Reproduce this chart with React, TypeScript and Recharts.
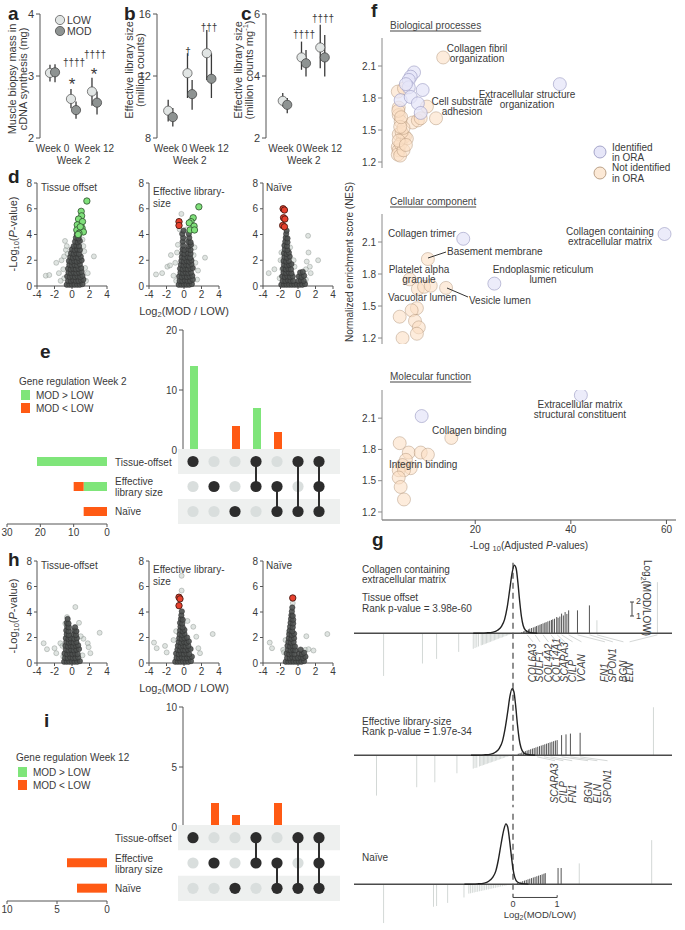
import React from "react";
import {
  ScatterChart,
  Scatter,
  ComposedChart,
  BarChart,
  Bar,
  Line,
  XAxis,
  YAxis,
  ErrorBar,
  ReferenceLine,
  ReferenceArea,
} from "recharts";

document.body.style.margin = "0";

const FONT = "'Liberation Sans', Arial, Helvetica, sans-serif";
const INK = "#3a3a3a";
const AX = "#555";
const GREEN = "#7fe57a";
const RED = "#ff5a14";

// ---------- a-c : mean and 95% interval per week
const weeks = ["Week 0", "Week 2", "Week 12"];
const massLowMean = [3.05, 2.63, 2.75];
const massLowCI = [[2.91, 3.18], [2.48, 2.79], [2.52, 2.97]];
const massModMean = [3.06, 2.45, 2.57];
const massModCI = [[2.9, 3.19], [2.31, 2.59], [2.38, 2.75]];
const libLowMean = [9.76, 12.18, 13.47];
const libLowCI = [[9.07, 10.47], [10.58, 13.47], [11.75, 14.97]];
const libModMean = [9.35, 10.83, 11.82];
const libModCI = [[8.75, 9.93], [9.82, 11.75], [10.58, 13.47]];
const perMgLowMean = [3.2, 4.6, 4.92];
const perMgLowCI = [[3.02, 3.45], [4.2, 5.11], [4.25, 5.65]];
const perMgModMean = [3.07, 4.41, 4.6];
const perMgModCI = [[2.8, 3.29], [3.98, 4.84], [3.98, 5.32]];

// ---------- d : volcano, week 2  [log2FC, -log10 p]
const d1Core = [
  [-0.6, 0.1], [-0.3, 0.1], [0, 0.1], [0.3, 0.1], [0.6, 0.1], [0.9, 0.1], [1.2, 0.15],
  [-0.45, 0.4], [-0.15, 0.4], [0.15, 0.45], [0.45, 0.4], [0.75, 0.4], [1.05, 0.45], [1.3, 0.5],
  [-0.55, 0.75], [-0.25, 0.7], [0.05, 0.75], [0.35, 0.7], [0.65, 0.75], [0.95, 0.7], [1.2, 0.8],
  [-0.4, 1.05], [-0.1, 1.0], [0.2, 1.05], [0.5, 1.0], [0.8, 1.05], [1.1, 1.1],
  [-0.45, 1.35], [-0.15, 1.3], [0.15, 1.35], [0.45, 1.3], [0.75, 1.35], [1.05, 1.4],
  [-0.3, 1.65], [0, 1.6], [0.3, 1.65], [0.6, 1.6], [0.9, 1.7],
  [-0.35, 1.95], [-0.05, 1.9], [0.25, 1.95], [0.55, 1.9], [0.85, 1.95], [1.1, 2.0],
  [-0.2, 2.25], [0.1, 2.2], [0.4, 2.25], [0.7, 2.2], [1.0, 2.3],
  [-0.1, 2.55], [0.2, 2.5], [0.5, 2.55], [0.8, 2.5],
  [0.0, 2.85], [0.3, 2.8], [0.6, 2.85], [0.9, 2.8],
  [0.2, 3.1], [0.5, 3.15], [0.8, 3.1],
  [0.35, 3.45], [0.65, 3.4], [0.9, 3.5],
  [0.45, 3.75], [0.75, 3.7], [0.55, 4.0], [0.8, 3.95],
];
const d1Spread = [
  [-3, 0.8], [-2.6, 0.85], [-1.8, 1.8], [-1.5, 1.0], [-1.2, 2.0], [-1.0, 1.3], [-0.9, 0.6],
  [-0.8, 3.5], [-0.7, 2.8], [-0.6, 3.1], [-0.9, 2.3], [-1.3, 0.4], [1.4, 2.7], [1.5, 1.4],
  [1.8, 1.0], [1.6, 0.4], [1.3, 3.1], [2.5, 2.3], [1.2, 3.6], [-0.5, 2.5],
];
const d1Up = [
  [1.7, 6.6], [1.05, 5.8], [1.1, 5.45], [0.75, 5.2], [1.2, 5.0], [0.6, 4.75], [1.15, 4.5],
  [0.55, 4.35], [1.3, 4.2], [0.8, 4.1], [0.95, 4.6], [0.7, 4.0],
];
const d2Core = [
  [-0.6, 0.1], [-0.3, 0.1], [0, 0.1], [0.3, 0.1], [0.6, 0.1], [0.9, 0.15],
  [-0.5, 0.4], [-0.2, 0.4], [0.1, 0.45], [0.4, 0.4], [0.7, 0.4], [1.0, 0.5],
  [-0.55, 0.75], [-0.25, 0.7], [0.05, 0.75], [0.35, 0.7], [0.65, 0.75], [0.95, 0.8],
  [-0.4, 1.05], [-0.1, 1.0], [0.2, 1.05], [0.5, 1.0], [0.8, 1.05],
  [-0.45, 1.35], [-0.15, 1.3], [0.15, 1.35], [0.45, 1.3], [0.75, 1.35], [1.0, 1.4],
  [-0.35, 1.65], [-0.05, 1.6], [0.25, 1.65], [0.55, 1.6], [0.85, 1.7],
  [-0.3, 1.95], [0, 1.9], [0.3, 1.95], [0.6, 1.9], [0.85, 2.0],
  [-0.25, 2.25], [0.05, 2.2], [0.4, 2.25], [0.7, 2.2],
  [-0.2, 2.55], [0.05, 2.5], [0.45, 2.55], [0.75, 2.5],
  [-0.15, 2.85], [0.05, 2.8], [0.5, 2.85], [0.75, 2.8],
  [-0.1, 3.15], [0.55, 3.1], [0.8, 3.2], [-0.15, 3.45], [0.5, 3.45], [0.75, 3.4],
  [-0.1, 3.75], [0.6, 3.75], [-0.2, 4.05], [0.55, 4.05], [-0.05, 4.3],
];
const d2Spread = [
  [-3.2, 0.9], [-2.5, 1.0], [-1.9, 1.5], [-1.6, 1.6], [-1.5, 2.4], [-1.2, 0.8], [-1.0, 1.8],
  [-0.9, 0.4], [-0.8, 2.6], [-0.7, 3.2], [-0.3, 5.6], [0.3, 4.4], [1.1, 2.4], [1.3, 1.8],
  [1.5, 0.5], [1.6, 1.2], [1.2, 3.0], [2.4, 2.2], [0.2, 3.6], [-0.5, 4.4],
];
const d2Up = [[1.7, 6.15], [1.05, 5.3], [0.8, 5.0], [0.6, 4.9], [1.15, 4.65], [0.7, 4.35], [1.2, 4.35]];
const d2Down = [[-0.57, 5.0], [-0.57, 4.7]];
const d3Core = [
  [-1.9, 0.1], [-1.6, 0.1], [-1.3, 0.1], [-1.0, 0.1], [-0.7, 0.1], [-0.4, 0.1], [-0.1, 0.1], [0.2, 0.1], [0.5, 0.1], [0.8, 0.15],
  [-1.75, 0.4], [-1.45, 0.4], [-1.15, 0.45], [-0.85, 0.4], [-0.55, 0.4], [0.05, 0.4], [0.35, 0.45], [0.65, 0.4],
  [-1.8, 0.75], [-1.5, 0.7], [-1.2, 0.75], [-0.9, 0.7], [-0.6, 0.75], [0.1, 0.75], [0.4, 0.7], [0.7, 0.8],
  [-1.65, 1.05], [-1.35, 1.0], [-1.05, 1.05], [-0.75, 1.0], [0.25, 1.05], [0.55, 1.1],
  [-1.7, 1.35], [-1.4, 1.3], [-1.1, 1.35], [-0.8, 1.3],
  [-1.6, 1.65], [-1.3, 1.6], [-1.0, 1.65], [-0.75, 1.7],
  [-1.65, 1.95], [-1.35, 1.9], [-1.05, 1.95], [-1.55, 2.25], [-1.25, 2.2], [-0.95, 2.3],
  [-1.6, 2.55], [-1.3, 2.5], [-1.05, 2.6], [-1.5, 2.85], [-1.2, 2.8],
  [-1.55, 3.15], [-1.25, 3.1], [-1.45, 3.45], [-1.2, 3.4], [-1.4, 3.75], [-1.2, 3.7], [-1.35, 4.05], [-1.3, 4.3],
];
const d3Spread = [
  [-3.35, 1.0], [-2.7, 1.3], [-1.8, 1.3], [-2.0, 2.0], [-1.9, 2.6], [-2.1, 0.6], [1.15, 3.9],
  [1.2, 2.6], [2.3, 2.0], [1.35, 1.5], [1.45, 1.0], [0.9, 0.5], [-0.5, 2.0], [-0.9, 3.0],
  [0.9, 1.3], [-0.4, 1.5], [1.0, 1.9],
];
const d3Down = [[-1.7, 6.0], [-1.55, 5.9], [-1.65, 5.3], [-1.5, 5.2], [-1.75, 4.7], [-1.55, 4.6]];

// ---------- h : volcano, week 12
const h1Core = [
  [-0.9, 0.1], [-0.6, 0.1], [-0.3, 0.1], [0, 0.1], [0.3, 0.1], [0.6, 0.1], [0.9, 0.15],
  [-0.8, 0.4], [-0.5, 0.4], [-0.2, 0.45], [0.1, 0.4], [0.4, 0.4], [0.7, 0.45],
  [-0.85, 0.75], [-0.55, 0.7], [-0.25, 0.75], [0.05, 0.7], [0.35, 0.75], [0.65, 0.7],
  [-0.7, 1.05], [-0.4, 1.0], [-0.1, 1.05], [0.2, 1.0], [0.5, 1.05], [0.8, 1.1],
  [-0.75, 1.35], [-0.45, 1.3], [-0.15, 1.35], [0.15, 1.3], [0.45, 1.35], [0.7, 1.4],
  [-0.65, 1.65], [-0.35, 1.6], [-0.1, 1.65], [0.2, 1.6], [0.5, 1.65],
  [-0.7, 1.95], [-0.4, 1.9], [-0.15, 1.95], [0.25, 1.9], [0.55, 1.95],
  [-0.6, 2.25], [-0.35, 2.2], [0.2, 2.25], [0.45, 2.2], [-0.65, 2.55], [-0.4, 2.5], [0.25, 2.55], [0.5, 2.5],
  [-0.55, 2.85], [-0.35, 2.8], [0.35, 2.8], [-0.6, 3.15], [-0.4, 3.1], [-0.5, 3.45],
];
const h1Spread = [
  [-3.24, 1.55], [-2.86, 1.08], [-2.0, 1.16], [-1.8, 0.77], [-1.33, 1.55], [-1.1, 1.34], [0.38, 4.39],
  [0.8, 3.15], [1.8, 1.55], [1.9, 1.24], [2.1, 0.77], [3.16, 2.37], [1.3, 1.9], [-0.57, 3.6],
  [-0.76, 3.1], [1.0, 2.1], [-1.0, 0.5], [1.2, 0.6],
];
const h2Core = [
  [-1.0, 0.1], [-0.7, 0.1], [-0.4, 0.1], [-0.1, 0.1], [0.2, 0.1], [0.5, 0.1], [0.8, 0.15],
  [-0.85, 0.4], [-0.55, 0.4], [-0.25, 0.45], [0.05, 0.4], [0.35, 0.4], [0.65, 0.45], [0.9, 0.5],
  [-0.9, 0.75], [-0.6, 0.7], [-0.3, 0.75], [0, 0.7], [0.3, 0.75], [0.6, 0.7],
  [-0.75, 1.05], [-0.45, 1.0], [-0.15, 1.05], [0.15, 1.0], [0.45, 1.05], [0.75, 1.1],
  [-0.7, 1.35], [-0.4, 1.3], [-0.1, 1.35], [0.2, 1.3], [0.5, 1.35],
  [-0.6, 1.65], [-0.3, 1.6], [0, 1.65], [0.3, 1.6], [0.55, 1.7],
  [-0.55, 1.95], [-0.25, 1.9], [0.05, 1.95], [0.35, 2.0], [-0.5, 2.25], [-0.2, 2.2], [0.05, 2.3],
  [-0.45, 2.55], [-0.15, 2.5], [0.05, 2.6], [-0.4, 2.85], [-0.15, 2.8], [-0.45, 3.15], [-0.2, 3.1],
  [-0.35, 3.45], [-0.15, 3.4], [-0.3, 3.75], [-0.25, 4.05],
];
const h2Spread = [
  [-3.43, 1.6], [-3.12, 1.16], [-2.17, 1.34], [-1.98, 0.83], [-0.27, 6.84], [-0.27, 5.68],
  [1.64, 1.16], [1.83, 0.77], [3.28, 2.27], [-1.2, 1.8], [1.06, 2.84], [1.4, 2.06], [-0.9, 2.5], [0.4, 3.3],
];
const h2Down = [[-0.57, 5.16], [-0.46, 5.03], [-0.57, 4.5]];
const h3Core = [
  [-1.4, 0.1], [-1.1, 0.1], [-0.8, 0.1], [-0.5, 0.1], [-0.2, 0.1], [0.1, 0.1], [0.4, 0.1], [0.7, 0.15],
  [-1.25, 0.4], [-0.95, 0.4], [-0.65, 0.45], [-0.35, 0.4], [0.0, 0.4], [0.3, 0.45], [0.6, 0.4], [0.85, 0.5],
  [-1.3, 0.75], [-1.0, 0.7], [-0.7, 0.75], [-0.4, 0.7], [0.15, 0.75], [0.45, 0.7], [0.7, 0.8],
  [-1.15, 1.05], [-0.85, 1.0], [-0.55, 1.05], [-0.3, 1.0], [0.3, 1.05],
  [-1.2, 1.35], [-0.9, 1.3], [-0.6, 1.35], [-0.35, 1.3], [-1.1, 1.65], [-0.8, 1.6], [-0.5, 1.65],
  [-1.05, 1.95], [-0.75, 1.9], [-0.45, 1.95], [-1.0, 2.25], [-0.7, 2.2], [-0.45, 2.3],
  [-0.95, 2.55], [-0.65, 2.5], [-0.9, 2.85], [-0.6, 2.8], [-0.85, 3.15], [-0.55, 3.1],
  [-0.8, 3.45], [-0.55, 3.4], [-0.75, 3.75], [-0.6, 3.7], [-0.7, 4.05], [-0.65, 4.35],
];
const h3Spread = [
  [-3.23, 1.6], [-2.97, 1.16], [-1.7, 1.03], [-1.6, 0.83], [-1.43, 1.8], [-1.05, 2.45], [0.84, 1.03],
  [1.2, 1.08], [0.95, 2.1], [3.35, 2.27], [0.45, 0.26], [1.77, 0.98], [-0.6, 4.7],
];
const h3Down = [[-0.6, 5.1]];

// ---------- e / i : upset
const setNames = ["Tissue-offset", "Effective library size", "Naïve"];
const membership = [
  [1, 0, 0, 1, 0, 1, 1],
  [0, 1, 0, 1, 1, 0, 1],
  [0, 0, 1, 0, 1, 1, 1],
];
const w2ColUp = [14, 0, 0, 7, 0, 0, 0];
const w2ColDown = [0, 0, 4, 0, 3, 0, 0];
const w2SetUp = [21, 7, 0];
const w2SetDown = [0, 3, 7];
const w12ColUp = [0, 0, 0, 0, 0, 0, 0];
const w12ColDown = [0, 2, 1, 0, 2, 0, 0];
const w12SetUp = [0, 0, 0];
const w12SetDown = [0, 4, 3];

// ---------- f : enrichment  [-log10 adj p, NES]
const bpOra = [[7.2, 2.04], [6.5, 2.0], [6.1, 1.97], [6.1, 1.9], [9.0, 1.875], [4.4, 1.78], [6.5, 1.81], [8.0, 1.75], [8.6, 1.66], [5.5, 1.93], [37.7, 1.93]];
const bpNot = [
  [13.3, 2.18], [11.8, 1.61], [9.9, 1.72], [3.8, 1.86], [5.1, 1.89], [4.0, 1.71], [4.0, 1.64], [4.4, 1.58],
  [6.9, 1.57], [8.0, 1.59], [8.6, 1.61], [4.0, 1.46], [4.9, 1.43], [5.3, 1.44], [3.8, 1.34], [4.0, 1.31],
  [3.8, 1.27], [4.4, 1.37], [5.7, 1.42], [4.6, 1.48], [5.0, 1.52], [4.3, 1.26], [5.0, 1.31], [4.0, 1.4],
  [5.5, 1.36], [4.3, 1.53], [3.9, 1.68], [4.5, 1.62],
];
const ccOra = [[17.5, 2.13], [59.6, 2.175], [24, 1.71]];
const ccNot = [[10.1, 1.94], [13.9, 1.67], [6.3, 1.75], [8.0, 1.66], [9.3, 1.68], [10.7, 1.69], [7.8, 1.48], [6.7, 1.46], [4.2, 1.4], [7.4, 1.36], [8.2, 1.3], [7.8, 1.24], [4.8, 1.2]];
const mfOra = [[42.1, 2.32], [8.8, 2.12]];
const mfNot = [[15, 1.91], [4.2, 1.86], [6.1, 1.77], [8.6, 1.77], [10.1, 1.75], [5.5, 1.7], [4.8, 1.65], [6.5, 1.62], [4.0, 1.6], [5.1, 1.6], [4.0, 1.53], [4.4, 1.44], [5.1, 1.32]];

// ---------- g : rank barcode  [log2FC, bar height], density [log2FC, density]
const g1Lead = [
  [0.2, 0.08], [0.24, 0.12], [0.27, 0.17], [0.31, 0.21], [0.35, 0.25], [0.38, 0.3], [0.42, 0.34], [0.46, 0.38],
  [0.5, 0.42], [0.53, 0.47], [0.57, 0.51], [0.61, 0.55], [0.64, 0.6], [0.68, 0.64], [0.72, 0.68], [0.75, 0.72],
  [0.79, 0.77], [0.83, 0.81], [0.87, 0.86], [0.9, 0.9], [0.94, 0.94], [0.99, 1.05], [1.02, 1.0], [1.06, 1.08],
  [1.1, 1.27], [1.14, 1.15], [1.18, 1.37], [1.22, 1.25], [1.26, 1.48], [1.46, 1.48], [1.73, 1.8],
];
const g1Rest = [
  [-2.93, -2.75], [-2.05, -1.95], [-1.73, -1.65], [-1.23, -1.2], [-0.9, -1.0], [-0.86, -0.95], [-0.82, -0.9],
  [-0.78, -0.85], [-0.72, -0.78], [-0.69, -0.75], [-0.66, -0.72], [-0.63, -0.68], [-0.6, -0.65], [-0.57, -0.62],
  [-0.54, -0.58], [-0.51, -0.55], [-0.48, -0.52], [-0.45, -0.48], [-0.42, -0.45], [-0.39, -0.42], [-0.36, -0.38],
  [-0.33, -0.35], [-0.3, -0.32], [-0.27, -0.29], [-0.24, -0.26], [-0.21, -0.22], [-0.18, -0.19], [-0.15, -0.16],
  [-0.12, -0.13], [-0.09, -0.1], [-0.06, -0.06], [1.9, 0.84], [3.27, 3.3],
];
const g1Curve = [
  [-0.9, 0], [-0.6, 0.03], [-0.45, 0.08], [-0.35, 0.2], [-0.26, 0.45], [-0.19, 0.9], [-0.13, 1.7], [-0.07, 2.9],
  [-0.02, 3.9], [0.03, 4.4], [0.07, 4.2], [0.11, 3.3], [0.15, 2.1], [0.19, 1.1], [0.23, 0.5], [0.29, 0.18], [0.38, 0.05], [0.55, 0],
];
const g1Genes = ["COL6A3", "SULF1", "COL4A2", "COL14A1", "SCARA3", "CILP", "VCAN", "FN1", "SPON1", "BGN", "ELN"];
const g1GeneFC = [0.32, 0.5, 0.68, 0.86, 1.0, 1.1, 1.26, 1.46, 1.73, 1.9, 3.27];
const g1LabelAt = [0.45, 0.61, 0.8, 0.99, 1.17, 1.35, 1.55, 2.08, 2.26, 2.5, 2.64];

const g2Lead = [
  [0.12, 0.1], [0.16, 0.14], [0.2, 0.18], [0.24, 0.22], [0.28, 0.27], [0.32, 0.31], [0.36, 0.35], [0.4, 0.39],
  [0.44, 0.43], [0.48, 0.47], [0.52, 0.51], [0.56, 0.55], [0.6, 0.59], [0.64, 0.63], [0.68, 0.67], [0.72, 0.71],
  [0.76, 0.75], [0.8, 0.79], [0.84, 0.83], [0.88, 0.87], [0.92, 0.91], [0.96, 0.95], [1.0, 0.98], [1.1, 1.3],
  [1.2, 1.35], [1.3, 1.4], [1.52, 1.45],
];
const g2Rest = [
  [-3.09, -2.6], [-2.18, -2.06], [-1.77, -1.74], [-1.27, -1.16], [-0.9, -0.86], [-0.86, -0.82], [-0.82, -0.8],
  [-0.76, -0.72], [-0.73, -0.69], [-0.7, -0.66], [-0.67, -0.63], [-0.64, -0.6], [-0.61, -0.57], [-0.58, -0.54],
  [-0.55, -0.51], [-0.52, -0.48], [-0.49, -0.45], [-0.46, -0.42], [-0.43, -0.39], [-0.4, -0.36], [-0.37, -0.33],
  [-0.34, -0.3], [-0.31, -0.27], [-0.28, -0.24], [-0.25, -0.21], [-0.22, -0.18], [-0.19, -0.15], [-0.16, -0.12],
  [-0.13, -0.09], [-0.1, -0.06], [3.18, 3.1],
];
const g2Curve = [
  [-0.95, 0], [-0.65, 0.03], [-0.5, 0.08], [-0.4, 0.2], [-0.31, 0.45], [-0.24, 0.9], [-0.18, 1.7], [-0.12, 2.8],
  [-0.07, 3.8], [-0.02, 4.3], [0.02, 4.1], [0.06, 3.2], [0.1, 2.0], [0.14, 1.05], [0.18, 0.5], [0.24, 0.17], [0.33, 0.05], [0.5, 0],
];
const g2Genes = ["SCARA3", "CILP", "FN1", "BGN", "ELN", "SPON1"];
const g2GeneFC = [0.55, 0.7, 0.85, 1.1, 1.3, 1.52];
const g2LabelAt = [0.95, 1.14, 1.34, 1.7, 1.91, 2.14];

const g3Lead = [
  [0.1, 0.08], [0.14, 0.12], [0.18, 0.16], [0.22, 0.2], [0.26, 0.24], [0.3, 0.28], [0.34, 0.32], [0.38, 0.36],
  [0.42, 0.4], [0.46, 0.44], [0.5, 0.48], [0.54, 0.52], [0.58, 0.56], [0.62, 0.6], [0.66, 0.64], [0.7, 0.68],
  [0.73, 0.72], [1.02, 1.05], [1.09, 1.05],
];
const g3Rest = [
  [-2.93, -2.5], [-1.8, -1.45], [-1.73, -1.4], [-1.48, -1.2], [-1.11, -0.85], [-1.0, -0.6], [-0.96, -0.58],
  [-0.92, -0.55], [-0.88, -0.53], [-0.84, -0.5], [-0.8, -0.48], [-0.76, -0.45], [-0.72, -0.43], [-0.68, -0.4],
  [-0.64, -0.38], [-0.6, -0.35], [-0.56, -0.33], [-0.52, -0.3], [-0.48, -0.28], [-0.44, -0.25], [-0.4, -0.23],
  [-0.36, -0.2], [-0.32, -0.18], [-0.28, -0.15], [-0.24, -0.13], [-0.2, -0.1], [-0.16, -0.08], [1.5, 1.35], [3.14, 2.85],
];
const g3Curve = [
  [-1.1, 0], [-0.8, 0.03], [-0.65, 0.08], [-0.55, 0.2], [-0.46, 0.45], [-0.39, 0.85], [-0.33, 1.6], [-0.27, 2.6],
  [-0.21, 3.5], [-0.16, 3.9], [-0.12, 3.7], [-0.08, 2.9], [-0.04, 1.9], [0.0, 1.0], [0.04, 0.45], [0.1, 0.15], [0.2, 0.04], [0.35, 0],
];

// ---------- helpers
const pts = (a: number[][]) => a.map(([x, y]) => ({ x, y }));

const Box = ({ x, y, children }: any) => (
  <div style={{ position: "absolute", left: x, top: y }}>{children}</div>
);

const dot =
  (r: number, fill: string, stroke: string, o: any = {}) =>
  (p: any) =>
    p.cx == null ? <g /> : (
      <circle
        cx={p.cx}
        cy={p.cy}
        r={r}
        fill={fill}
        stroke={stroke}
        strokeWidth={o.sw ?? 0.7}
        fillOpacity={o.fo ?? 1}
        strokeOpacity={o.so ?? 1}
      />
    );

const tick10 = { fontSize: 10, fill: INK };

function DotPlot({ axisX, first, step, domain, ticks, low, lowCI, mod, modCI }: any) {
  const W = 74;
  const x0 = -first / step;
  const rows = (m: number[], ci: number[][], off: number) =>
    m.map((v, i) => ({ x: i + off, y: v, err: [v - ci[i][0], ci[i][1] - v] }));
  const WeekTick = (p: any) => (
    <text
      x={p.x}
      y={p.y + (p.payload.value === 1 ? 22 : 10)}
      textAnchor="middle"
      fontSize={10}
      fill={INK}
      dominantBaseline="central"
    >
      {weeks[p.payload.value]}
    </text>
  );
  return (
    <Box x={axisX - 40} y={0}>
      <ScatterChart width={40 + W + 14} height={170} margin={{ top: 14, right: 14, bottom: 0, left: 0 }}>
        <XAxis
          type="number"
          dataKey="x"
          domain={[x0, x0 + W / step]}
          ticks={[0, 1, 2]}
          interval={0}
          axisLine={false}
          tickLine={false}
          tickSize={0}
          tickMargin={0}
          height={32}
          tick={WeekTick}
          allowDataOverflow
        />
        <YAxis
          type="number"
          dataKey="y"
          domain={domain}
          ticks={ticks}
          interval={0}
          width={40}
          stroke={AX}
          tickSize={4}
          tick={{ fontSize: 11, fill: INK }}
          allowDataOverflow
        />
        <Scatter data={rows(low, lowCI, -0.12)} isAnimationActive={false} shape={dot(4.6, "#e1e5e4", "#4a4a4a")}>
          <ErrorBar dataKey="err" direction="y" width={0} stroke="#3a3a3a" strokeWidth={1.3} />
        </Scatter>
        <Scatter data={rows(mod, modCI, 0.12)} isAnimationActive={false} shape={dot(4.6, "#8e9392", "#3a3a3a")}>
          <ErrorBar dataKey="err" direction="y" width={0} stroke="#3a3a3a" strokeWidth={1.3} />
        </Scatter>
      </ScatterChart>
    </Box>
  );
}

function Volcano({ axisX, top, plotH, core, spread, up, down }: any) {
  return (
    <Box x={axisX - 30} y={top - 6}>
      <ScatterChart width={108} height={6 + plotH + 22} margin={{ top: 6, right: 8, bottom: 0, left: 0 }}>
        <XAxis type="number" dataKey="x" domain={[-4, 4]} ticks={[-4, -2, 0, 2, 4]} interval={0} height={22} tickSize={3} stroke={AX} tick={tick10} />
        <YAxis type="number" dataKey="y" domain={[0, 8]} ticks={[0, 2, 4, 6, 8]} interval={0} width={30} tickSize={3} stroke={AX} tick={tick10} />
        <Scatter data={pts(spread)} isAnimationActive={false} shape={dot(2.5, "#c5cdc9", "#737a76", { fo: 0.55, so: 0.6, sw: 0.6 })} />
        <Scatter data={pts(core)} isAnimationActive={false} shape={dot(2.7, "#4d504f", "#2c2c2c", { sw: 0.5, fo: 0.9 })} />
        {up && <Scatter data={pts(up)} isAnimationActive={false} shape={dot(3.2, "#7fe07a", "#2f4f2f", { sw: 0.8 })} />}
        {down && <Scatter data={pts(down)} isAnimationActive={false} shape={dot(3.2, "#e8412e", "#4a1a12", { sw: 0.9 })} />}
      </ScatterChart>
    </Box>
  );
}

function UpsetBars({ top, up, down, max, ticks }: any) {
  const data = up.map((u: number, i: number) => ({ c: i, up: u, down: down[i] }));
  return (
    <Box x={152.5} y={top - 5}>
      <BarChart width={177} height={133} data={data} margin={{ top: 5, right: 0, bottom: 8, left: 0 }} barCategoryGap={0}>
        <XAxis dataKey="c" hide />
        <YAxis type="number" domain={[0, max]} ticks={ticks} interval={0} width={30} tickSize={4} stroke={AX} tick={tick10} />
        <Bar dataKey="up" stackId="s" fill={GREEN} barSize={8} isAnimationActive={false} />
        <Bar dataKey="down" stackId="s" fill={RED} barSize={8} isAnimationActive={false} />
      </BarChart>
    </Box>
  );
}

function UpsetMatrix({ top, height }: any) {
  const off: any[] = [];
  const cols: any[][] = [];
  for (let c = 0; c < membership[0].length; c++) {
    const on: any[] = [];
    membership.forEach((row, r) => {
      if (row[c]) on.push({ x: c, y: 2 - r });
      else off.push({ x: c, y: 2 - r });
    });
    cols.push(on);
  }
  return (
    <Box x={178} y={top}>
      <ScatterChart width={162} height={height} margin={{ top: 0, right: 0, bottom: 0, left: 0 }}>
        <XAxis type="number" dataKey="x" domain={[-0.714, 7.0]} hide allowDataOverflow />
        <YAxis type="number" dataKey="y" domain={[-0.5, 2.5]} hide allowDataOverflow />
        <ReferenceArea y1={1.5} y2={2.5} fill="#eef0ef" fillOpacity={1} stroke="none" ifOverflow="visible" />
        <ReferenceArea y1={-0.5} y2={0.5} fill="#eef0ef" fillOpacity={1} stroke="none" ifOverflow="visible" />
        <Scatter data={off} isAnimationActive={false} shape={dot(5.6, "#d9dedd", "none", { sw: 0 })} />
        {cols.map((col, i) => (
          <Scatter
            key={i}
            data={col}
            isAnimationActive={false}
            line={col.length > 1 ? { stroke: "#2d2d2d", strokeWidth: 2 } : false}
            shape={dot(5.6, "#2d2d2d", "none", { sw: 0 })}
          />
        ))}
      </ScatterChart>
    </Box>
  );
}

function SetBars({ top, height, up, down, max, ticks }: any) {
  const data = setNames.map((n, i) => ({ n, up: up[i], down: down[i] }));
  return (
    <Box x={-3} y={top}>
      <BarChart layout="vertical" width={120} height={height + 22} data={data} margin={{ top: 0, right: 10, bottom: 0, left: 10 }}>
        <XAxis type="number" domain={[0, max]} ticks={ticks} interval={0} reversed height={22} tickSize={3} stroke={AX} tick={tick10} />
        <YAxis type="category" dataKey="n" hide />
        <Bar dataKey="up" stackId="s" fill={GREEN} barSize={9} isAnimationActive={false} />
        <Bar dataKey="down" stackId="s" fill={RED} barSize={9} isAnimationActive={false} />
      </BarChart>
    </Box>
  );
}

function Enrich({ top, plotH, domain, ora, not, showX }: any) {
  return (
    <Box x={352} y={top}>
      <ScatterChart width={328} height={plotH + (showX ? 22 : 0)} margin={{ top: 0, right: 4, bottom: 0, left: 0 }}>
        <XAxis type="number" dataKey="x" domain={[0.5, 62]} ticks={[20, 40, 60]} interval={0} hide={!showX} height={22} tickSize={4} stroke={AX} tick={tick10} />
        <YAxis
          type="number"
          dataKey="y"
          domain={domain}
          ticks={[1.2, 1.5, 1.8, 2.1]}
          interval={0}
          width={30}
          tickSize={4}
          stroke="#8a8a8a"
          tick={tick10}
          tickFormatter={(v: number) => v.toFixed(1)}
          allowDataOverflow
        />
        <Scatter data={pts(not)} isAnimationActive={false} shape={dot(6.5, "#fbe0c4", "#a98d70", { fo: 0.6, so: 0.55, sw: 0.8 })} />
        <Scatter data={pts(ora)} isAnimationActive={false} shape={dot(6.5, "#e6e6f8", "#9292bd", { fo: 0.75, so: 0.7, sw: 0.8 })} />
      </ScatterChart>
    </Box>
  );
}

const U = 15.5;
function RankRow({ base, lead, rest, curve, genes, geneFC, labelAt, labelY, linkY, scale }: any) {
  const labels = genes ? genes.map((g: string, i: number) => ({ x: labelAt[i], y: labelY, name: g })) : [];
  const RotText = (p: any) => (
    <text
      x={p.cx}
      y={p.cy}
      transform={`rotate(-90 ${p.cx} ${p.cy})`}
      fontSize={10}
      fontStyle="italic"
      fill="#444"
      dominantBaseline="central"
    >
      {p.payload.name}
    </text>
  );
  return (
    <Box x={354} y={base - 4.6 * U}>
      <ComposedChart width={318} height={8 * U} margin={{ top: 0, right: 0, bottom: 0, left: 0 }}>
        <XAxis type="number" dataKey="x" domain={[-3.6, 3.6]} hide allowDataOverflow />
        <YAxis type="number" dataKey="y" domain={[-3.4, 4.6]} hide allowDataOverflow />
        {genes &&
          genes.map((g: string, i: number) => (
            <ReferenceLine
              key={"k" + g}
              segment={[{ x: geneFC[i], y: -0.1 }, { x: labelAt[i], y: linkY }]}
              stroke="#c2c6c4"
              strokeWidth={0.7}
            />
          ))}
        {rest.map(([x, h]: number[], i: number) => (
          <ReferenceLine key={"r" + i} segment={[{ x, y: 0 }, { x, y: h }]} stroke="#d3d8d6" strokeWidth={1} />
        ))}
        {lead.map(([x, h]: number[], i: number) => (
          <ReferenceLine key={"l" + i} segment={[{ x, y: 0 }, { x, y: h }]} stroke="#555" strokeWidth={1} />
        ))}
        <ReferenceLine y={0} stroke="#4a4a4a" strokeWidth={1.6} />
        <ReferenceLine
          segment={[{ x: 0, y: 4.55 }, { x: 0, y: scale ? -0.85 : -3.35 }]}
          stroke="#555"
          strokeWidth={1.3}
          strokeDasharray="6 4"
        />
        {scale && (
          <>
            <ReferenceLine segment={[{ x: 0, y: -0.85 }, { x: 1, y: -0.85 }]} stroke="#444" strokeWidth={1} />
            <ReferenceLine segment={[{ x: 1, y: -0.85 }, { x: 1, y: -0.7 }]} stroke="#444" strokeWidth={1} />
          </>
        )}
        <Line
          data={curve.map(([x, d]: number[]) => ({ x, d }))}
          dataKey="d"
          type="monotone"
          dot={false}
          stroke="#222"
          strokeWidth={1.4}
          isAnimationActive={false}
        />
        {genes && <Scatter data={labels} dataKey="y" isAnimationActive={false} shape={RotText} />}
      </ComposedChart>
    </Box>
  );
}

// ---------- text overlay helpers
const T = ({ x, y, s = 10, a = "start", it, c = INK, children, ...rest }: any) => (
  <text x={x} y={y} fontSize={s} textAnchor={a} fontStyle={it ? "italic" : undefined} fill={c} dominantBaseline="central" {...rest}>
    {children}
  </text>
);
const R = ({ x, y, s = 11, deg = -90, children }: any) => (
  <text transform={`translate(${x},${y}) rotate(${deg})`} fontSize={s} textAnchor="middle" fill={INK} dominantBaseline="central">
    {children}
  </text>
);
const L = ({ x, y, children }: any) => (
  <text x={x} y={y} fontSize={19} fontWeight="bold" fill="#222">
    {children}
  </text>
);

function Overlay() {
  const log2 = (
    <>
      Log<tspan dy={3} fontSize={7.5}>2</tspan>
      <tspan dy={-3}>(MOD / LOW)</tspan>
    </>
  );
  const logp = (
    <>
      -Log<tspan dy={3} fontSize={7.5}>10</tspan>
      <tspan dy={-3}>(</tspan>
      <tspan fontStyle="italic">P</tspan>-value)
    </>
  );
  return (
    <svg width={685} height={930} style={{ position: "absolute", left: 0, top: 0, pointerEvents: "none" }}>
      <L x={8} y={20}>a</L>
      <L x={124} y={20}>b</L>
      <L x={241} y={20}>c</L>
      <L x={8} y={183}>d</L>
      <L x={40} y={358}>e</L>
      <L x={371} y={17}>f</L>
      <L x={372} y={546}>g</L>
      <L x={8} y={566}>h</L>
      <L x={44} y={727}>i</L>

      {/* a-c */}
      <R x={12} y={79}>Muscle biopsy mass in</R>
      <R x={23} y={79}>cDNA synthesis (mg)</R>
      <circle cx={60} cy={20} r={4.6} fill="#e1e5e4" stroke="#4a4a4a" strokeWidth={0.7} />
      <T x={67} y={20} s={10.5}>LOW</T>
      <circle cx={60} cy={31} r={4.6} fill="#8e9392" stroke="#3a3a3a" strokeWidth={0.7} />
      <T x={67} y={31} s={10.5}>MOD</T>
      <T x={74} y={62} a="middle" s={10}>††††</T>
      <T x={72} y={84} a="middle" s={17}>*</T>
      <T x={95} y={54} a="middle" s={10}>††††</T>
      <T x={94} y={74} a="middle" s={17}>*</T>
      <R x={129} y={70}>Effective library size</R>
      <R x={140} y={70}>(million counts)</R>
      <T x={188} y={51} a="middle" s={10}>†</T>
      <T x={209} y={27} a="middle" s={10}>†††</T>
      <R x={238} y={70}>Effective library size</R>
      <R x={249} y={70}>
        (million counts mg<tspan dy={-4} fontSize={7.5}>-1</tspan>
        <tspan dy={4}>)</tspan>
      </R>
      <T x={304} y={34} a="middle" s={10}>††††</T>
      <T x={323} y={18} a="middle" s={10}>††††</T>

      {/* d */}
      <T x={41} y={187}>Tissue offset</T>
      <T x={153} y={191}>Effective library-</T>
      <T x={153} y={203}>size</T>
      <T x={266} y={187}>Naïve</T>
      <R x={13} y={234}>{logp}</R>
      <T x={184} y={311} a="middle" s={11}>{log2}</T>

      {/* h */}
      <T x={41} y={565}>Tissue-offset</T>
      <T x={153} y={569}>Effective library-</T>
      <T x={153} y={581}>size</T>
      <T x={266} y={565}>Naïve</T>
      <R x={13} y={616}>{logp}</R>
      <T x={184} y={688} a="middle" s={11}>{log2}</T>

      {/* e */}
      <T x={19} y={381}>Gene regulation Week 2</T>
      <rect x={21} y={390} width={9} height={10} fill={GREEN} />
      <T x={36} y={395}>MOD &gt; LOW</T>
      <rect x={21} y={403} width={9} height={10} fill={RED} />
      <T x={36} y={408}>MOD &lt; LOW</T>
      <T x={115} y={462}>Tissue-offset</T>
      <T x={115} y={481}>Effective</T>
      <T x={115} y={492}>library size</T>
      <T x={115} y={511}>Naïve</T>

      {/* i */}
      <T x={16} y={757}>Gene regulation Week 12</T>
      <rect x={18} y={767} width={9} height={10} fill={GREEN} />
      <T x={33} y={772}>MOD &gt; LOW</T>
      <rect x={18} y={780} width={9} height={10} fill={RED} />
      <T x={33} y={785}>MOD &lt; LOW</T>
      <T x={115} y={838}>Tissue-offset</T>
      <T x={115} y={858}>Effective</T>
      <T x={115} y={869}>library size</T>
      <T x={115} y={888}>Naïve</T>

      {/* f */}
      <T x={390} y={25} c="#444" style={{ textDecoration: "underline" }}>Biological processes</T>
      <T x={390} y={201} c="#444" style={{ textDecoration: "underline" }}>Cellular component</T>
      <T x={390} y={376} c="#444" style={{ textDecoration: "underline" }}>Molecular function</T>
      <T x={477} y={48} a="middle">Collagen fibril</T>
      <T x={477} y={58} a="middle">organization</T>
      <T x={527} y={94} a="middle">Extracellular structure</T>
      <T x={527} y={104} a="middle">organization</T>
      <T x={462} y={101} a="middle">Cell substrate</T>
      <T x={462} y={111} a="middle">adhesion</T>
      <circle cx={600} cy={152} r={6} fill="#e6e6f8" stroke="#9292bd" strokeWidth={0.8} />
      <T x={612} y={147}>Identified</T>
      <T x={612} y={157}>in ORA</T>
      <circle cx={600} cy={173} r={6} fill="#fbe0c4" stroke="#a98d70" strokeWidth={0.8} fillOpacity={0.7} />
      <T x={612} y={167}>Not identified</T>
      <T x={612} y={178}>in ORA</T>
      <T x={388} y={233}>Collagen trimer</T>
      <line x1={428} y1={258} x2={446} y2={252} stroke="#333" strokeWidth={1} />
      <T x={447} y={251}>Basement membrane</T>
      <T x={419} y={269} a="middle">Platelet alpha</T>
      <T x={419} y={279} a="middle">granule</T>
      <T x={388} y={297}>Vacuolar lumen</T>
      <line x1={447} y1={288} x2={468} y2={297} stroke="#333" strokeWidth={1} />
      <T x={469} y={300}>Vesicle lumen</T>
      <T x={543} y={269} a="middle">Endoplasmic reticulum</T>
      <T x={543} y={279} a="middle">lumen</T>
      <T x={610} y={231} a="middle">Collagen containing</T>
      <T x={610} y={241} a="middle">extracellular matrix</T>
      <T x={580} y={404} a="middle">Extracellular matrix</T>
      <T x={580} y={414} a="middle">structural constituent</T>
      <T x={432} y={430}>Collagen binding</T>
      <T x={389} y={464}>Integrin binding</T>
      <R x={349} y={262} s={10}>Normalized enrichment score (NES)</R>
      <T x={529} y={545} a="middle">
        -Log <tspan dy={3} fontSize={7.5}>10</tspan>
        <tspan dy={-3}>(Adjusted </tspan>
        <tspan fontStyle="italic">P</tspan>-values)
      </T>

      {/* g */}
      <T x={362} y={569}>Collagen containing</T>
      <T x={362} y={579}>extracellular matrix</T>
      <T x={362} y={597}>Tissue offset</T>
      <T x={362} y={608}>Rank p-value = 3.98e-60</T>
      <T x={362} y={721}>Effective library-size</T>
      <T x={362} y={731}>Rank p-value = 1.97e-34</T>
      <T x={362} y={857}>Naïve</T>
      <R x={647} y={598} s={10} deg={90}>
        Log<tspan dy={3} fontSize={7}>2</tspan>
        <tspan dy={-3}>(MOD/LOW)</tspan>
      </R>
      <line x1={632} y1={602} x2={632} y2={616} stroke="#444" strokeWidth={1} />
      <line x1={630} y1={602} x2={634} y2={602} stroke="#444" strokeWidth={1} />
      <line x1={630} y1={616} x2={634} y2={616} stroke="#444" strokeWidth={1} />
      <T x={636} y={601} s={9}>2</T>
      <T x={636} y={616} s={9}>1</T>
      <T x={513} y={904} a="middle" s={9}>0</T>
      <T x={557} y={904} a="middle" s={9}>1</T>
      <T x={540} y={914} a="middle" s={9.5}>
        Log<tspan dy={2.5} fontSize={7}>2</tspan>
        <tspan dy={-2.5}>(MOD/LOW)</tspan>
      </T>
    </svg>
  );
}

export default function App() {
  return (
    <div style={{ position: "relative", width: 685, height: 930, fontFamily: FONT, color: INK, overflow: "hidden", background: "#fff" }}>
      <DotPlot axisX={40} first={12.5} step={21} domain={[2, 4]} ticks={[2, 3, 4]} low={massLowMean} lowCI={massLowCI} mod={massModMean} modCI={massModCI} />
      <DotPlot axisX={157} first={13.5} step={19.3} domain={[8, 16]} ticks={[8, 12, 16]} low={libLowMean} lowCI={libLowCI} mod={libModMean} modCI={libModCI} />
      <DotPlot axisX={266} first={19} step={18.75} domain={[2, 6]} ticks={[2, 4, 6]} low={perMgLowMean} lowCI={perMgLowCI} mod={perMgModMean} modCI={perMgModCI} />

      <Volcano axisX={37} top={183} plotH={103} core={d1Core} spread={d1Spread} up={d1Up} />
      <Volcano axisX={149} top={183} plotH={103} core={d2Core} spread={d2Spread} up={d2Up} down={d2Down} />
      <Volcano axisX={263} top={183} plotH={103} core={d3Core} spread={d3Spread} down={d3Down} />

      <UpsetBars top={330} up={w2ColUp} down={w2ColDown} max={20} ticks={[0, 10, 20]} />
      <UpsetMatrix top={448.5} height={75} />
      <SetBars top={448.5} height={75} up={w2SetUp} down={w2SetDown} max={30} ticks={[0, 10, 20, 30]} />

      <Volcano axisX={37} top={561} plotH={102} core={h1Core} spread={h1Spread} />
      <Volcano axisX={149} top={561} plotH={102} core={h2Core} spread={h2Spread} down={h2Down} />
      <Volcano axisX={263} top={561} plotH={102} core={h3Core} spread={h3Spread} down={h3Down} />

      <UpsetBars top={707} up={w12ColUp} down={w12ColDown} max={10} ticks={[0, 5, 10]} />
      <UpsetMatrix top={824.5} height={76} />
      <SetBars top={824.5} height={76} up={w12SetUp} down={w12SetDown} max={10} ticks={[0, 5, 10]} />

      <Enrich top={38} plotH={130} domain={[1.144, 2.3625]} ora={bpOra} not={bpNot} />
      <Enrich top={214} plotH={130} domain={[1.144, 2.3625]} ora={ccOra} not={ccNot} />
      <Enrich top={390} plotH={130} domain={[1.123, 2.37]} ora={mfOra} not={mfNot} showX />

      <RankRow base={633} lead={g1Lead} rest={g1Rest} curve={g1Curve} genes={g1Genes} geneFC={g1GeneFC} labelAt={g1LabelAt} labelY={-3.15} linkY={-0.55} />
      <RankRow base={755} lead={g2Lead} rest={g2Rest} curve={g2Curve} genes={g2Genes} geneFC={g2GeneFC} labelAt={g2LabelAt} labelY={-3.1} linkY={-0.35} />
      <RankRow base={884} lead={g3Lead} rest={g3Rest} curve={g3Curve} scale />

      <Overlay />
    </div>
  );
}
